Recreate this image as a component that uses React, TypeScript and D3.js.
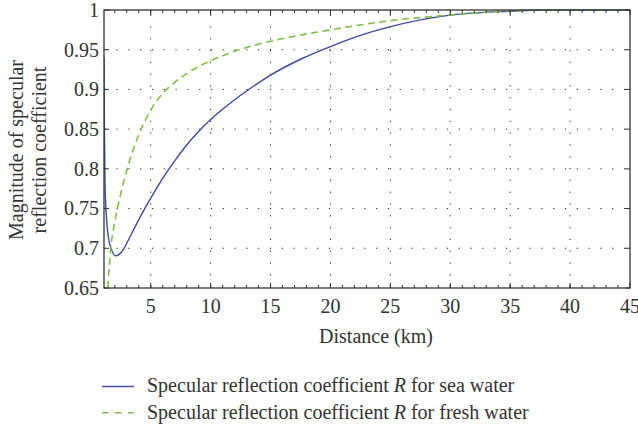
import React from "react";
import * as d3 from "d3";

// Distance (km) and |R| samples for sea water
const seaDistance = [1.1, 1.13, 1.18, 1.3, 1.46, 1.74, 2.08, 2.58, 3.13, 3.69, 4.5, 5, 6, 7, 8, 9, 10, 11, 12, 13, 15, 17.5, 20, 22.5, 25, 30, 35, 38, 45];
const seaR = [0.94, 0.86, 0.786, 0.74, 0.7145, 0.698, 0.6905, 0.6956, 0.7103, 0.727, 0.75, 0.763, 0.788, 0.81, 0.83, 0.847, 0.862, 0.875, 0.887, 0.898, 0.918, 0.938, 0.954, 0.968, 0.979, 0.9935, 0.9985, 1.0, 1.0];

// Distance (km) and |R| samples for fresh water
const freshDistance = [1.41, 1.68, 2.02, 2.44, 3, 4, 5, 6, 7, 8, 9, 10, 12, 14, 17, 20, 25, 30, 35, 38, 45];
const freshR = [0.65, 0.702, 0.735, 0.765, 0.798, 0.843, 0.874, 0.895, 0.909, 0.92, 0.929, 0.936, 0.948, 0.957, 0.967, 0.975, 0.9866, 0.9937, 0.999, 1.0, 1.0];

const xTicks = [5, 10, 15, 20, 25, 30, 35, 40, 45];
const xMinorTicks = d3.range(2, 45, 1);
const yTicks = [0.65, 0.7, 0.75, 0.8, 0.85, 0.9, 0.95, 1];

const legendLabels = ["sea water", "fresh water"];

const W = 638;
const H = 428;
const left = 104;
const right = 630;
const top = 10;
const bottom = 288;

const FONT = "'Liberation Serif'";
const BLUE = "#3a4aa6";
const GREEN = "#7cc144";
const AXIS = "#333";
const TEXT = "#333";

export default function App() {
  const x = d3.scaleLinear().domain([1.1, 45]).range([left, right]);
  const y = d3.scaleLinear().domain([0.65, 1]).range([bottom, top]);

  const line = d3
    .line<[number, number]>()
    .x((d) => x(d[0]))
    .y((d) => y(d[1]))
    .curve(d3.curveMonotoneX);

  const seaPts = seaDistance.map((d, i) => [d, seaR[i]] as [number, number]);
  const freshPts = freshDistance.map((d, i) => [d, freshR[i]] as [number, number]);

  const fmt = (v: number) => (v === 1 ? "1" : String(+v.toFixed(2)));

  return (
    <svg
      width={W}
      height={H}
      style={{ position: "absolute", left: 0, top: 0, background: "#fff" }}
      fontFamily={FONT}
    >
      <defs>
        <clipPath id="plot-area">
          <rect x={left} y={top - 1} width={right - left} height={bottom - top + 1} />
        </clipPath>
      </defs>

      {/* dotted grid */}
      <g stroke="#222" strokeWidth={1} strokeDasharray="1.2,10.6">
        {xTicks
          .filter((t) => t < 45)
          .map((t) => (
            <line key={"gx" + t} x1={x(t)} x2={x(t)} y1={bottom} y2={top} strokeDashoffset={-0.8} />
          ))}
        {yTicks
          .filter((t) => t > 0.65 && t < 1)
          .map((t) => (
            <line key={"gy" + t} x1={left} x2={right} y1={y(t)} y2={y(t)} strokeDashoffset={-0.7} />
          ))}
      </g>

      {/* curves */}
      <g clipPath="url(#plot-area)" fill="none">
        <path d={line(seaPts) ?? ""} stroke={BLUE} strokeWidth={1.4} />
        <path d={line(freshPts) ?? ""} stroke={GREEN} strokeWidth={1.6} strokeDasharray="7,4.5" />
      </g>

      {/* frame */}
      <rect x={left} y={top} width={right - left} height={bottom - top} fill="none" stroke={AXIS} strokeWidth={1.3} />

      {/* ticks */}
      <g stroke={AXIS} strokeWidth={1}>
        {xMinorTicks.map((t) => (
          <g key={"mx" + t}>
            <line x1={x(t)} x2={x(t)} y1={bottom} y2={bottom - 3} />
            <line x1={x(t)} x2={x(t)} y1={top} y2={top + 3} />
          </g>
        ))}
        {xTicks.map((t) => (
          <g key={"tx" + t}>
            <line x1={x(t)} x2={x(t)} y1={bottom} y2={bottom - 5} />
            <line x1={x(t)} x2={x(t)} y1={top} y2={top + 5} />
          </g>
        ))}
        {yTicks.map((t) => (
          <g key={"ty" + t}>
            <line x1={left} x2={left + 5} y1={y(t)} y2={y(t)} />
            <line x1={right} x2={right - 5} y1={y(t)} y2={y(t)} />
          </g>
        ))}
      </g>

      {/* tick labels */}
      <g fontSize={20} fill={TEXT}>
        {xTicks.map((t) => (
          <text key={"lx" + t} x={x(t)} y={313} textAnchor="middle">
            {t}
          </text>
        ))}
        {yTicks.map((t) => (
          <text key={"ly" + t} x={99} y={y(t)} dy="0.34em" textAnchor="end">
            {fmt(t)}
          </text>
        ))}
      </g>

      {/* axis titles */}
      <text x={376} y={343} fontSize={20} textAnchor="middle" fill={TEXT}>
        Distance (km)
      </text>
      <g transform="translate(0,150) rotate(-90)" fontSize={20} fill={TEXT} textAnchor="middle">
        <text x={0} y={22.5}>Magnitude of specular</text>
        <text x={0} y={45.5}>reflection coefficient</text>
      </g>

      {/* legend */}
      <g fontSize={20} fill={TEXT}>
        {legendLabels.map((lab, i) => {
          const ly = 386.5 + i * 26.3;
          return (
            <g key={lab}>
              <line
                x1={102}
                x2={134}
                y1={ly}
                y2={ly}
                stroke={i === 0 ? BLUE : GREEN}
                strokeWidth={i === 0 ? 1.4 : 1.6}
                strokeDasharray={i === 0 ? undefined : "6.5,6.5"}
              />
              <text x={147} y={ly + 5.7}>
                Specular reflection coefficient <tspan fontStyle="italic">R</tspan> for {lab}
              </text>
            </g>
          );
        })}
      </g>
    </svg>
  );
}
